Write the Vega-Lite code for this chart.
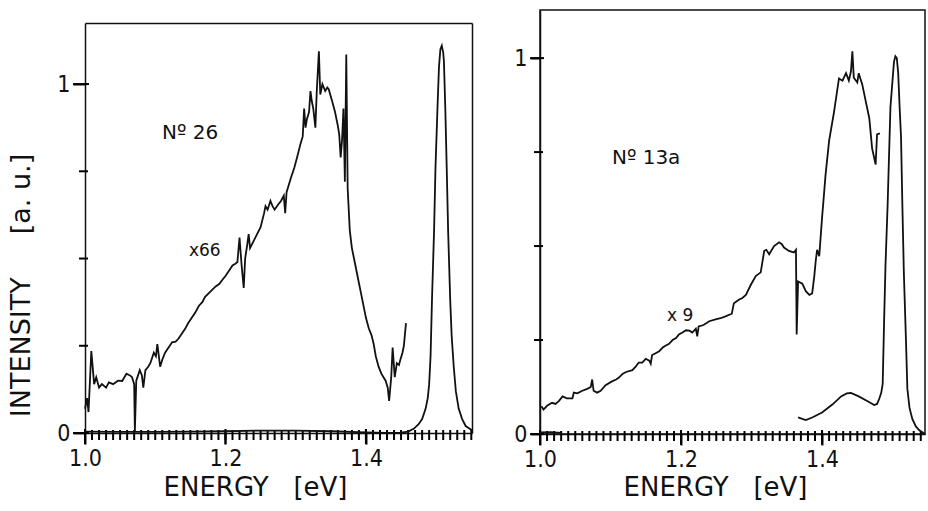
{
  "$schema": "https://vega.github.io/schema/vega-lite/v6.json",
  "background": "white",
  "padding": {"left": 7, "top": 9, "right": 2, "bottom": 5},
  "spacing": 37,
  "config": {
    "view": {"stroke": "#111", "strokeWidth": 1.5},
    "axis": {
      "grid": false, "domainColor": "#111", "domainWidth": 1.5, "tickColor": "#111", "tickWidth": 2,
      "labelColor": "#111", "titleColor": "#111",
      "labelFont": "Liberation Sans Narrow, DejaVu Sans Condensed, Liberation Sans", "labelFontSize": 23,
      "titleFont": "DejaVu Sans", "titleFontSize": 26, "titleFontWeight": "normal",
      "labelOverlap": false, "labelFlush": false, "labelBound": false
    },
    "text": {"font": "DejaVu Sans", "color": "#111"}
  },
  "datasets": {
    "axisticks": [
      {"axis": "x", "v": 1.00, "major": true}, {"axis": "x", "v": 1.01, "major": false}, {"axis": "x", "v": 1.02, "major": false}, {"axis": "x", "v": 1.03, "major": false}, {"axis": "x", "v": 1.04, "major": false},
      {"axis": "x", "v": 1.05, "major": false}, {"axis": "x", "v": 1.06, "major": false}, {"axis": "x", "v": 1.07, "major": false}, {"axis": "x", "v": 1.08, "major": false}, {"axis": "x", "v": 1.09, "major": false},
      {"axis": "x", "v": 1.10, "major": false}, {"axis": "x", "v": 1.11, "major": false}, {"axis": "x", "v": 1.12, "major": false}, {"axis": "x", "v": 1.13, "major": false}, {"axis": "x", "v": 1.14, "major": false},
      {"axis": "x", "v": 1.15, "major": false}, {"axis": "x", "v": 1.16, "major": false}, {"axis": "x", "v": 1.17, "major": false}, {"axis": "x", "v": 1.18, "major": false}, {"axis": "x", "v": 1.19, "major": false},
      {"axis": "x", "v": 1.20, "major": true}, {"axis": "x", "v": 1.21, "major": false}, {"axis": "x", "v": 1.22, "major": false}, {"axis": "x", "v": 1.23, "major": false}, {"axis": "x", "v": 1.24, "major": false},
      {"axis": "x", "v": 1.25, "major": false}, {"axis": "x", "v": 1.26, "major": false}, {"axis": "x", "v": 1.27, "major": false}, {"axis": "x", "v": 1.28, "major": false}, {"axis": "x", "v": 1.29, "major": false},
      {"axis": "x", "v": 1.30, "major": false}, {"axis": "x", "v": 1.31, "major": false}, {"axis": "x", "v": 1.32, "major": false}, {"axis": "x", "v": 1.33, "major": false}, {"axis": "x", "v": 1.34, "major": false},
      {"axis": "x", "v": 1.35, "major": false}, {"axis": "x", "v": 1.36, "major": false}, {"axis": "x", "v": 1.37, "major": false}, {"axis": "x", "v": 1.38, "major": false}, {"axis": "x", "v": 1.39, "major": false},
      {"axis": "x", "v": 1.40, "major": true}, {"axis": "x", "v": 1.41, "major": false}, {"axis": "x", "v": 1.42, "major": false}, {"axis": "x", "v": 1.43, "major": false}, {"axis": "x", "v": 1.44, "major": false},
      {"axis": "x", "v": 1.45, "major": false}, {"axis": "x", "v": 1.46, "major": false}, {"axis": "x", "v": 1.47, "major": false}, {"axis": "x", "v": 1.48, "major": false}, {"axis": "x", "v": 1.49, "major": false},
      {"axis": "x", "v": 1.50, "major": false}, {"axis": "x", "v": 1.51, "major": false}, {"axis": "x", "v": 1.52, "major": false}, {"axis": "x", "v": 1.53, "major": false}, {"axis": "x", "v": 1.54, "major": false},
      {"axis": "x", "v": 1.55, "major": false},
      {"axis": "y", "v": 0, "major": true}, {"axis": "y", "v": 0.25, "major": false}, {"axis": "y", "v": 0.5, "major": false}, {"axis": "y", "v": 0.75, "major": false}, {"axis": "y", "v": 1, "major": true}
    ],
    "spectra": [
      {"panel": "26", "series": "x66", "x": 1.000, "y": 0.07},
      {"panel": "26", "series": "x66", "x": 1.003, "y": 0.10},
      {"panel": "26", "series": "x66", "x": 1.005, "y": 0.06},
      {"panel": "26", "series": "x66", "x": 1.009, "y": 0.235},
      {"panel": "26", "series": "x66", "x": 1.013, "y": 0.14},
      {"panel": "26", "series": "x66", "x": 1.016, "y": 0.16},
      {"panel": "26", "series": "x66", "x": 1.020, "y": 0.13},
      {"panel": "26", "series": "x66", "x": 1.024, "y": 0.14},
      {"panel": "26", "series": "x66", "x": 1.030, "y": 0.13},
      {"panel": "26", "series": "x66", "x": 1.034, "y": 0.145},
      {"panel": "26", "series": "x66", "x": 1.040, "y": 0.14},
      {"panel": "26", "series": "x66", "x": 1.047, "y": 0.15},
      {"panel": "26", "series": "x66", "x": 1.053, "y": 0.149},
      {"panel": "26", "series": "x66", "x": 1.059, "y": 0.17},
      {"panel": "26", "series": "x66", "x": 1.064, "y": 0.165},
      {"panel": "26", "series": "x66", "x": 1.067, "y": 0.16},
      {"panel": "26", "series": "x66", "x": 1.070, "y": 0.14},
      {"panel": "26", "series": "x66", "x": 1.071, "y": 0.005},
      {"panel": "26", "series": "x66", "x": 1.073, "y": 0.15},
      {"panel": "26", "series": "x66", "x": 1.078, "y": 0.18},
      {"panel": "26", "series": "x66", "x": 1.081, "y": 0.165},
      {"panel": "26", "series": "x66", "x": 1.083, "y": 0.13},
      {"panel": "26", "series": "x66", "x": 1.086, "y": 0.18},
      {"panel": "26", "series": "x66", "x": 1.090, "y": 0.19},
      {"panel": "26", "series": "x66", "x": 1.093, "y": 0.20},
      {"panel": "26", "series": "x66", "x": 1.098, "y": 0.23},
      {"panel": "26", "series": "x66", "x": 1.101, "y": 0.22},
      {"panel": "26", "series": "x66", "x": 1.103, "y": 0.255},
      {"panel": "26", "series": "x66", "x": 1.107, "y": 0.19},
      {"panel": "26", "series": "x66", "x": 1.110, "y": 0.21},
      {"panel": "26", "series": "x66", "x": 1.114, "y": 0.23},
      {"panel": "26", "series": "x66", "x": 1.119, "y": 0.245},
      {"panel": "26", "series": "x66", "x": 1.124, "y": 0.26},
      {"panel": "26", "series": "x66", "x": 1.129, "y": 0.262},
      {"panel": "26", "series": "x66", "x": 1.133, "y": 0.27},
      {"panel": "26", "series": "x66", "x": 1.138, "y": 0.285},
      {"panel": "26", "series": "x66", "x": 1.143, "y": 0.30},
      {"panel": "26", "series": "x66", "x": 1.147, "y": 0.315},
      {"panel": "26", "series": "x66", "x": 1.152, "y": 0.33},
      {"panel": "26", "series": "x66", "x": 1.157, "y": 0.345},
      {"panel": "26", "series": "x66", "x": 1.162, "y": 0.364},
      {"panel": "26", "series": "x66", "x": 1.167, "y": 0.375},
      {"panel": "26", "series": "x66", "x": 1.171, "y": 0.39},
      {"panel": "26", "series": "x66", "x": 1.176, "y": 0.40},
      {"panel": "26", "series": "x66", "x": 1.181, "y": 0.41},
      {"panel": "26", "series": "x66", "x": 1.186, "y": 0.42},
      {"panel": "26", "series": "x66", "x": 1.191, "y": 0.427},
      {"panel": "26", "series": "x66", "x": 1.196, "y": 0.44},
      {"panel": "26", "series": "x66", "x": 1.200, "y": 0.45},
      {"panel": "26", "series": "x66", "x": 1.205, "y": 0.465},
      {"panel": "26", "series": "x66", "x": 1.210, "y": 0.48},
      {"panel": "26", "series": "x66", "x": 1.214, "y": 0.485},
      {"panel": "26", "series": "x66", "x": 1.217, "y": 0.49},
      {"panel": "26", "series": "x66", "x": 1.220, "y": 0.56},
      {"panel": "26", "series": "x66", "x": 1.223, "y": 0.48},
      {"panel": "26", "series": "x66", "x": 1.226, "y": 0.416},
      {"panel": "26", "series": "x66", "x": 1.228, "y": 0.50},
      {"panel": "26", "series": "x66", "x": 1.231, "y": 0.54},
      {"panel": "26", "series": "x66", "x": 1.233, "y": 0.57},
      {"panel": "26", "series": "x66", "x": 1.235, "y": 0.53},
      {"panel": "26", "series": "x66", "x": 1.240, "y": 0.55},
      {"panel": "26", "series": "x66", "x": 1.245, "y": 0.57},
      {"panel": "26", "series": "x66", "x": 1.250, "y": 0.59},
      {"panel": "26", "series": "x66", "x": 1.255, "y": 0.63},
      {"panel": "26", "series": "x66", "x": 1.257, "y": 0.65},
      {"panel": "26", "series": "x66", "x": 1.260, "y": 0.64},
      {"panel": "26", "series": "x66", "x": 1.264, "y": 0.665},
      {"panel": "26", "series": "x66", "x": 1.267, "y": 0.65},
      {"panel": "26", "series": "x66", "x": 1.270, "y": 0.64},
      {"panel": "26", "series": "x66", "x": 1.275, "y": 0.655},
      {"panel": "26", "series": "x66", "x": 1.279, "y": 0.665},
      {"panel": "26", "series": "x66", "x": 1.283, "y": 0.68},
      {"panel": "26", "series": "x66", "x": 1.285, "y": 0.63},
      {"panel": "26", "series": "x66", "x": 1.287, "y": 0.69},
      {"panel": "26", "series": "x66", "x": 1.290, "y": 0.71},
      {"panel": "26", "series": "x66", "x": 1.293, "y": 0.73},
      {"panel": "26", "series": "x66", "x": 1.298, "y": 0.76},
      {"panel": "26", "series": "x66", "x": 1.302, "y": 0.79},
      {"panel": "26", "series": "x66", "x": 1.307, "y": 0.83},
      {"panel": "26", "series": "x66", "x": 1.310, "y": 0.85},
      {"panel": "26", "series": "x66", "x": 1.312, "y": 0.93},
      {"panel": "26", "series": "x66", "x": 1.314, "y": 0.875},
      {"panel": "26", "series": "x66", "x": 1.316, "y": 0.90},
      {"panel": "26", "series": "x66", "x": 1.319, "y": 0.92},
      {"panel": "26", "series": "x66", "x": 1.321, "y": 0.98},
      {"panel": "26", "series": "x66", "x": 1.323, "y": 0.95},
      {"panel": "26", "series": "x66", "x": 1.325, "y": 0.93},
      {"panel": "26", "series": "x66", "x": 1.328, "y": 0.875},
      {"panel": "26", "series": "x66", "x": 1.330, "y": 0.98},
      {"panel": "26", "series": "x66", "x": 1.333, "y": 1.094},
      {"panel": "26", "series": "x66", "x": 1.335, "y": 0.97},
      {"panel": "26", "series": "x66", "x": 1.338, "y": 1.0},
      {"panel": "26", "series": "x66", "x": 1.342, "y": 0.98},
      {"panel": "26", "series": "x66", "x": 1.345, "y": 0.99},
      {"panel": "26", "series": "x66", "x": 1.347, "y": 0.985},
      {"panel": "26", "series": "x66", "x": 1.352, "y": 0.95},
      {"panel": "26", "series": "x66", "x": 1.356, "y": 0.92},
      {"panel": "26", "series": "x66", "x": 1.360, "y": 0.88},
      {"panel": "26", "series": "x66", "x": 1.362, "y": 0.855},
      {"panel": "26", "series": "x66", "x": 1.364, "y": 0.79},
      {"panel": "26", "series": "x66", "x": 1.366, "y": 0.84},
      {"panel": "26", "series": "x66", "x": 1.368, "y": 0.93},
      {"panel": "26", "series": "x66", "x": 1.370, "y": 0.72},
      {"panel": "26", "series": "x66", "x": 1.372, "y": 1.085},
      {"panel": "26", "series": "x66", "x": 1.374, "y": 0.70},
      {"panel": "26", "series": "x66", "x": 1.377, "y": 0.58},
      {"panel": "26", "series": "x66", "x": 1.380, "y": 0.53},
      {"panel": "26", "series": "x66", "x": 1.383, "y": 0.50},
      {"panel": "26", "series": "x66", "x": 1.386, "y": 0.47},
      {"panel": "26", "series": "x66", "x": 1.390, "y": 0.43},
      {"panel": "26", "series": "x66", "x": 1.393, "y": 0.40},
      {"panel": "26", "series": "x66", "x": 1.397, "y": 0.36},
      {"panel": "26", "series": "x66", "x": 1.400, "y": 0.33},
      {"panel": "26", "series": "x66", "x": 1.404, "y": 0.30},
      {"panel": "26", "series": "x66", "x": 1.408, "y": 0.28},
      {"panel": "26", "series": "x66", "x": 1.411, "y": 0.255},
      {"panel": "26", "series": "x66", "x": 1.414, "y": 0.22},
      {"panel": "26", "series": "x66", "x": 1.418, "y": 0.19},
      {"panel": "26", "series": "x66", "x": 1.422, "y": 0.17},
      {"panel": "26", "series": "x66", "x": 1.425, "y": 0.16},
      {"panel": "26", "series": "x66", "x": 1.428, "y": 0.15},
      {"panel": "26", "series": "x66", "x": 1.431, "y": 0.13},
      {"panel": "26", "series": "x66", "x": 1.433, "y": 0.092},
      {"panel": "26", "series": "x66", "x": 1.436, "y": 0.16},
      {"panel": "26", "series": "x66", "x": 1.438, "y": 0.245},
      {"panel": "26", "series": "x66", "x": 1.441, "y": 0.16},
      {"panel": "26", "series": "x66", "x": 1.444, "y": 0.20},
      {"panel": "26", "series": "x66", "x": 1.447, "y": 0.195},
      {"panel": "26", "series": "x66", "x": 1.449, "y": 0.21},
      {"panel": "26", "series": "x66", "x": 1.452, "y": 0.23},
      {"panel": "26", "series": "x66", "x": 1.454, "y": 0.25},
      {"panel": "26", "series": "x66", "x": 1.457, "y": 0.315},

      {"panel": "26", "series": "x1", "x": 1.000, "y": 0.004},
      {"panel": "26", "series": "x1", "x": 1.050, "y": 0.003},
      {"panel": "26", "series": "x1", "x": 1.100, "y": 0.003},
      {"panel": "26", "series": "x1", "x": 1.150, "y": 0.004},
      {"panel": "26", "series": "x1", "x": 1.200, "y": 0.005},
      {"panel": "26", "series": "x1", "x": 1.250, "y": 0.007},
      {"panel": "26", "series": "x1", "x": 1.300, "y": 0.007},
      {"panel": "26", "series": "x1", "x": 1.350, "y": 0.005},
      {"panel": "26", "series": "x1", "x": 1.400, "y": 0.002},
      {"panel": "26", "series": "x1", "x": 1.430, "y": 0.0},
      {"panel": "26", "series": "x1", "x": 1.450, "y": 0.001},
      {"panel": "26", "series": "x1", "x": 1.460, "y": 0.004},
      {"panel": "26", "series": "x1", "x": 1.468, "y": 0.012},
      {"panel": "26", "series": "x1", "x": 1.475, "y": 0.025},
      {"panel": "26", "series": "x1", "x": 1.480, "y": 0.04},
      {"panel": "26", "series": "x1", "x": 1.485, "y": 0.07},
      {"panel": "26", "series": "x1", "x": 1.488, "y": 0.10},
      {"panel": "26", "series": "x1", "x": 1.490, "y": 0.14},
      {"panel": "26", "series": "x1", "x": 1.492, "y": 0.22},
      {"panel": "26", "series": "x1", "x": 1.494, "y": 0.38},
      {"panel": "26", "series": "x1", "x": 1.497, "y": 0.58},
      {"panel": "26", "series": "x1", "x": 1.499, "y": 0.76},
      {"panel": "26", "series": "x1", "x": 1.502, "y": 0.94},
      {"panel": "26", "series": "x1", "x": 1.504, "y": 1.05},
      {"panel": "26", "series": "x1", "x": 1.506, "y": 1.10},
      {"panel": "26", "series": "x1", "x": 1.508, "y": 1.11},
      {"panel": "26", "series": "x1", "x": 1.510, "y": 1.09},
      {"panel": "26", "series": "x1", "x": 1.511, "y": 1.066},
      {"panel": "26", "series": "x1", "x": 1.513, "y": 0.93},
      {"panel": "26", "series": "x1", "x": 1.515, "y": 0.76},
      {"panel": "26", "series": "x1", "x": 1.517, "y": 0.58},
      {"panel": "26", "series": "x1", "x": 1.520, "y": 0.38},
      {"panel": "26", "series": "x1", "x": 1.522, "y": 0.28},
      {"panel": "26", "series": "x1", "x": 1.525, "y": 0.19},
      {"panel": "26", "series": "x1", "x": 1.528, "y": 0.12},
      {"panel": "26", "series": "x1", "x": 1.532, "y": 0.07},
      {"panel": "26", "series": "x1", "x": 1.537, "y": 0.04},
      {"panel": "26", "series": "x1", "x": 1.542, "y": 0.02},
      {"panel": "26", "series": "x1", "x": 1.551, "y": 0.008},

      {"panel": "13a", "series": "x9", "x": 1.002, "y": 0.074},
      {"panel": "13a", "series": "x9", "x": 1.005, "y": 0.065},
      {"panel": "13a", "series": "x9", "x": 1.010, "y": 0.075},
      {"panel": "13a", "series": "x9", "x": 1.017, "y": 0.083},
      {"panel": "13a", "series": "x9", "x": 1.022, "y": 0.08},
      {"panel": "13a", "series": "x9", "x": 1.027, "y": 0.088},
      {"panel": "13a", "series": "x9", "x": 1.032, "y": 0.10},
      {"panel": "13a", "series": "x9", "x": 1.038, "y": 0.095},
      {"panel": "13a", "series": "x9", "x": 1.046, "y": 0.095},
      {"panel": "13a", "series": "x9", "x": 1.048, "y": 0.11},
      {"panel": "13a", "series": "x9", "x": 1.053, "y": 0.108},
      {"panel": "13a", "series": "x9", "x": 1.060, "y": 0.115},
      {"panel": "13a", "series": "x9", "x": 1.067, "y": 0.12},
      {"panel": "13a", "series": "x9", "x": 1.072, "y": 0.125},
      {"panel": "13a", "series": "x9", "x": 1.074, "y": 0.145},
      {"panel": "13a", "series": "x9", "x": 1.076, "y": 0.115},
      {"panel": "13a", "series": "x9", "x": 1.081, "y": 0.11},
      {"panel": "13a", "series": "x9", "x": 1.086, "y": 0.115},
      {"panel": "13a", "series": "x9", "x": 1.093, "y": 0.13},
      {"panel": "13a", "series": "x9", "x": 1.102, "y": 0.14},
      {"panel": "13a", "series": "x9", "x": 1.108, "y": 0.145},
      {"panel": "13a", "series": "x9", "x": 1.112, "y": 0.15},
      {"panel": "13a", "series": "x9", "x": 1.117, "y": 0.16},
      {"panel": "13a", "series": "x9", "x": 1.122, "y": 0.165},
      {"panel": "13a", "series": "x9", "x": 1.131, "y": 0.17},
      {"panel": "13a", "series": "x9", "x": 1.136, "y": 0.18},
      {"panel": "13a", "series": "x9", "x": 1.140, "y": 0.19},
      {"panel": "13a", "series": "x9", "x": 1.145, "y": 0.19},
      {"panel": "13a", "series": "x9", "x": 1.150, "y": 0.20},
      {"panel": "13a", "series": "x9", "x": 1.155, "y": 0.195},
      {"panel": "13a", "series": "x9", "x": 1.157, "y": 0.187},
      {"panel": "13a", "series": "x9", "x": 1.159, "y": 0.21},
      {"panel": "13a", "series": "x9", "x": 1.164, "y": 0.215},
      {"panel": "13a", "series": "x9", "x": 1.169, "y": 0.22},
      {"panel": "13a", "series": "x9", "x": 1.174, "y": 0.23},
      {"panel": "13a", "series": "x9", "x": 1.178, "y": 0.235},
      {"panel": "13a", "series": "x9", "x": 1.183, "y": 0.24},
      {"panel": "13a", "series": "x9", "x": 1.188, "y": 0.25},
      {"panel": "13a", "series": "x9", "x": 1.193, "y": 0.255},
      {"panel": "13a", "series": "x9", "x": 1.197, "y": 0.265},
      {"panel": "13a", "series": "x9", "x": 1.202, "y": 0.27},
      {"panel": "13a", "series": "x9", "x": 1.207, "y": 0.276},
      {"panel": "13a", "series": "x9", "x": 1.212, "y": 0.275},
      {"panel": "13a", "series": "x9", "x": 1.216, "y": 0.27},
      {"panel": "13a", "series": "x9", "x": 1.221, "y": 0.28},
      {"panel": "13a", "series": "x9", "x": 1.223, "y": 0.26},
      {"panel": "13a", "series": "x9", "x": 1.225, "y": 0.286},
      {"panel": "13a", "series": "x9", "x": 1.232, "y": 0.29},
      {"panel": "13a", "series": "x9", "x": 1.240, "y": 0.30},
      {"panel": "13a", "series": "x9", "x": 1.249, "y": 0.305},
      {"panel": "13a", "series": "x9", "x": 1.256, "y": 0.308},
      {"panel": "13a", "series": "x9", "x": 1.263, "y": 0.313},
      {"panel": "13a", "series": "x9", "x": 1.272, "y": 0.32},
      {"panel": "13a", "series": "x9", "x": 1.275, "y": 0.348},
      {"panel": "13a", "series": "x9", "x": 1.282, "y": 0.357},
      {"panel": "13a", "series": "x9", "x": 1.287, "y": 0.362},
      {"panel": "13a", "series": "x9", "x": 1.292, "y": 0.37},
      {"panel": "13a", "series": "x9", "x": 1.299, "y": 0.397},
      {"panel": "13a", "series": "x9", "x": 1.306, "y": 0.42},
      {"panel": "13a", "series": "x9", "x": 1.313, "y": 0.43},
      {"panel": "13a", "series": "x9", "x": 1.318, "y": 0.487},
      {"panel": "13a", "series": "x9", "x": 1.321, "y": 0.49},
      {"panel": "13a", "series": "x9", "x": 1.325, "y": 0.478},
      {"panel": "13a", "series": "x9", "x": 1.332, "y": 0.50},
      {"panel": "13a", "series": "x9", "x": 1.339, "y": 0.51},
      {"panel": "13a", "series": "x9", "x": 1.343, "y": 0.505},
      {"panel": "13a", "series": "x9", "x": 1.346, "y": 0.496},
      {"panel": "13a", "series": "x9", "x": 1.353, "y": 0.487},
      {"panel": "13a", "series": "x9", "x": 1.360, "y": 0.483},
      {"panel": "13a", "series": "x9", "x": 1.363, "y": 0.49},
      {"panel": "13a", "series": "x9", "x": 1.364, "y": 0.265},
      {"panel": "13a", "series": "x9", "x": 1.366, "y": 0.406},
      {"panel": "13a", "series": "x9", "x": 1.372, "y": 0.40},
      {"panel": "13a", "series": "x9", "x": 1.377, "y": 0.38},
      {"panel": "13a", "series": "x9", "x": 1.382, "y": 0.37},
      {"panel": "13a", "series": "x9", "x": 1.386, "y": 0.374},
      {"panel": "13a", "series": "x9", "x": 1.389, "y": 0.42},
      {"panel": "13a", "series": "x9", "x": 1.391, "y": 0.46},
      {"panel": "13a", "series": "x9", "x": 1.393, "y": 0.49},
      {"panel": "13a", "series": "x9", "x": 1.396, "y": 0.473},
      {"panel": "13a", "series": "x9", "x": 1.400, "y": 0.575},
      {"panel": "13a", "series": "x9", "x": 1.405, "y": 0.69},
      {"panel": "13a", "series": "x9", "x": 1.410, "y": 0.78},
      {"panel": "13a", "series": "x9", "x": 1.417, "y": 0.857},
      {"panel": "13a", "series": "x9", "x": 1.424, "y": 0.946},
      {"panel": "13a", "series": "x9", "x": 1.429, "y": 0.94},
      {"panel": "13a", "series": "x9", "x": 1.434, "y": 0.96},
      {"panel": "13a", "series": "x9", "x": 1.438, "y": 0.94},
      {"panel": "13a", "series": "x9", "x": 1.441, "y": 0.965},
      {"panel": "13a", "series": "x9", "x": 1.443, "y": 1.018},
      {"panel": "13a", "series": "x9", "x": 1.445, "y": 0.948},
      {"panel": "13a", "series": "x9", "x": 1.450, "y": 0.935},
      {"panel": "13a", "series": "x9", "x": 1.452, "y": 0.96},
      {"panel": "13a", "series": "x9", "x": 1.457, "y": 0.93},
      {"panel": "13a", "series": "x9", "x": 1.462, "y": 0.885},
      {"panel": "13a", "series": "x9", "x": 1.467, "y": 0.84},
      {"panel": "13a", "series": "x9", "x": 1.471, "y": 0.76},
      {"panel": "13a", "series": "x9", "x": 1.476, "y": 0.717},
      {"panel": "13a", "series": "x9", "x": 1.478, "y": 0.797},
      {"panel": "13a", "series": "x9", "x": 1.482, "y": 0.80},

      {"panel": "13a", "series": "x1low", "x": 1.000, "y": 0.004},
      {"panel": "13a", "series": "x1low", "x": 1.015, "y": 0.005},
      {"panel": "13a", "series": "x1low", "x": 1.030, "y": 0.003},

      {"panel": "13a", "series": "x1", "x": 1.366, "y": 0.044},
      {"panel": "13a", "series": "x1", "x": 1.372, "y": 0.040},
      {"panel": "13a", "series": "x1", "x": 1.377, "y": 0.037},
      {"panel": "13a", "series": "x1", "x": 1.386, "y": 0.044},
      {"panel": "13a", "series": "x1", "x": 1.400, "y": 0.057},
      {"panel": "13a", "series": "x1", "x": 1.415, "y": 0.079},
      {"panel": "13a", "series": "x1", "x": 1.427, "y": 0.10},
      {"panel": "13a", "series": "x1", "x": 1.435, "y": 0.108},
      {"panel": "13a", "series": "x1", "x": 1.441, "y": 0.109},
      {"panel": "13a", "series": "x1", "x": 1.452, "y": 0.10},
      {"panel": "13a", "series": "x1", "x": 1.464, "y": 0.088},
      {"panel": "13a", "series": "x1", "x": 1.474, "y": 0.077},
      {"panel": "13a", "series": "x1", "x": 1.478, "y": 0.080},
      {"panel": "13a", "series": "x1", "x": 1.481, "y": 0.093},
      {"panel": "13a", "series": "x1", "x": 1.484, "y": 0.11},
      {"panel": "13a", "series": "x1", "x": 1.486, "y": 0.133},
      {"panel": "13a", "series": "x1", "x": 1.488, "y": 0.30},
      {"panel": "13a", "series": "x1", "x": 1.490, "y": 0.45},
      {"panel": "13a", "series": "x1", "x": 1.493, "y": 0.61},
      {"panel": "13a", "series": "x1", "x": 1.497, "y": 0.87},
      {"panel": "13a", "series": "x1", "x": 1.502, "y": 0.99},
      {"panel": "13a", "series": "x1", "x": 1.504, "y": 1.005},
      {"panel": "13a", "series": "x1", "x": 1.506, "y": 1.0},
      {"panel": "13a", "series": "x1", "x": 1.508, "y": 0.96},
      {"panel": "13a", "series": "x1", "x": 1.510, "y": 0.87},
      {"panel": "13a", "series": "x1", "x": 1.512, "y": 0.79},
      {"panel": "13a", "series": "x1", "x": 1.514, "y": 0.60},
      {"panel": "13a", "series": "x1", "x": 1.516, "y": 0.43},
      {"panel": "13a", "series": "x1", "x": 1.519, "y": 0.25},
      {"panel": "13a", "series": "x1", "x": 1.521, "y": 0.12},
      {"panel": "13a", "series": "x1", "x": 1.524, "y": 0.07},
      {"panel": "13a", "series": "x1", "x": 1.528, "y": 0.04},
      {"panel": "13a", "series": "x1", "x": 1.533, "y": 0.02},
      {"panel": "13a", "series": "x1", "x": 1.538, "y": 0.01},
      {"panel": "13a", "series": "x1", "x": 1.546, "y": 0.0}
    ],
    "notes": [
      {"panel": "26", "kind": "sample", "label": "Nº 26", "x": 1.1096, "y": 0.842},
      {"panel": "26", "kind": "factor", "label": "x66", "x": 1.148, "y": 0.507},
      {"panel": "13a", "kind": "sample", "label": "Nº 13a", "x": 1.102, "y": 0.718},
      {"panel": "13a", "kind": "factor", "label": "x 9", "x": 1.18, "y": 0.30}
    ]
  },
  "hconcat": [
    {
      "width": 387,
      "height": 423,
      "view": {"stroke": null},
      "resolve": {"axis": {"x": "independent", "y": "independent"}},
      "layer": [
        {
          "data": {"name": "axisticks"},
          "transform": [{"filter": "datum.axis == 'x' && datum.v <= 1.551"}],
          "mark": {"type": "rule", "color": "black", "strokeWidth": 2},
          "encoding": {
            "x": {"field": "v", "type": "quantitative", "axis": null},
            "y": {"datum": 0.0086, "type": "quantitative", "axis": null},
            "y2": {"datum": -0.02}
          }
        },
        {
          "data": {"name": "axisticks"},
          "transform": [{"filter": "datum.axis == 'x' && datum.major"}],
          "mark": {"type": "rule", "color": "black", "strokeWidth": 2},
          "encoding": {
            "x": {"field": "v", "type": "quantitative", "axis": null},
            "y": {"datum": 0.0115, "type": "quantitative", "axis": null},
            "y2": {"datum": -0.032}
          }
        },
        {
          "data": {"name": "axisticks"},
          "transform": [{"filter": "datum.axis == 'y' && !datum.major"}],
          "mark": {"type": "rule", "color": "black", "strokeWidth": 2},
          "encoding": {
            "x": {"datum": 1.0043, "type": "quantitative", "axis": null},
            "x2": {"datum": 0.9915},
            "y": {"field": "v", "type": "quantitative", "axis": null}
          }
        },
        {
          "data": {"name": "axisticks"},
          "transform": [{"filter": "datum.axis == 'y' && datum.major"}],
          "mark": {"type": "rule", "color": "black", "strokeWidth": 2},
          "encoding": {
            "x": {"datum": 1.0057, "type": "quantitative", "axis": null},
            "x2": {"datum": 0.983},
            "y": {"field": "v", "type": "quantitative", "axis": null}
          }
        },
        {
          "data": {"name": "spectra"},
          "transform": [{"filter": "datum.panel == '26'"}],
          "mark": {"type": "line", "color": "#111", "strokeWidth": 1.8},
          "encoding": {
            "x": {
              "field": "x", "type": "quantitative",
              "scale": {"domain": [1.0, 1.551], "nice": false, "zero": false},
              "axis": {
                "orient": "bottom",
                "title": "ENERGY\u00a0\u00a0\u00a0[eV]",
                "values": [1.0, 1.2, 1.4],
                "format": ".1f",
                "tickSize": 11,
                "labelPadding": 3,
                "titleX": 170, "titleY": 54, "titleAlign": "center", "titleBaseline": "middle"
              }
            },
            "y": {
              "field": "y", "type": "quantitative",
              "scale": {"domain": [0, 1.175], "range": [423, 13], "nice": false},
              "axis": {
                "orient": "left",
                "title": "INTENSITY\u00a0\u00a0\u00a0\u00a0\u00a0[a. u.]",
                "titleFontSize": 27,
                "values": [0, 1],
                "format": "d",
                "tickSize": 12,
                "labelPadding": 3,
                "titleX": -64, "titleY": 275, "titleAngle": 270, "titleAlign": "center", "titleBaseline": "middle"
              }
            },
            "detail": {"field": "series"}
          }
        },
        {
          "data": {"name": "notes"},
          "transform": [{"filter": "datum.panel == '26' && datum.kind == 'sample'"}],
          "mark": {"type": "text", "align": "left", "baseline": "alphabetic", "fontSize": 20},
          "encoding": {
            "x": {"field": "x", "type": "quantitative", "axis": null},
            "y": {"field": "y", "type": "quantitative", "axis": null},
            "text": {"field": "label"}
          }
        },
        {
          "data": {"name": "notes"},
          "transform": [{"filter": "datum.panel == '26' && datum.kind == 'factor'"}],
          "mark": {"type": "text", "align": "left", "baseline": "alphabetic", "fontSize": 17},
          "encoding": {
            "x": {
              "field": "x", "type": "quantitative",
              "axis": {"orient": "top", "title": null, "labels": false, "ticks": false, "domain": true, "offset": -13, "values": [1.0]}
            },
            "y": {
              "field": "y", "type": "quantitative",
              "axis": {"orient": "right", "title": null, "labels": false, "ticks": false, "domain": true, "values": [0]}
            },
            "text": {"field": "label"}
          }
        }
      ]
    },
    {
      "width": 385,
      "height": 424,
      "resolve": {"axis": {"x": "independent", "y": "independent"}},
      "layer": [
        {
          "data": {"name": "axisticks"},
          "transform": [{"filter": "datum.axis == 'x' && datum.v <= 1.546"}],
          "mark": {"type": "rule", "color": "black", "strokeWidth": 2},
          "encoding": {
            "x": {"field": "v", "type": "quantitative", "axis": null},
            "y": {"datum": 0.008, "type": "quantitative", "axis": null},
            "y2": {"datum": -0.0186}
          }
        },
        {
          "data": {"name": "axisticks"},
          "transform": [{"filter": "datum.axis == 'x' && datum.major"}],
          "mark": {"type": "rule", "color": "black", "strokeWidth": 2},
          "encoding": {
            "x": {"field": "v", "type": "quantitative", "axis": null},
            "y": {"datum": 0.0106, "type": "quantitative", "axis": null},
            "y2": {"datum": -0.029}
          }
        },
        {
          "data": {"name": "axisticks"},
          "transform": [{"filter": "datum.axis == 'y' && !datum.major"}],
          "mark": {"type": "rule", "color": "black", "strokeWidth": 2},
          "encoding": {
            "x": {"datum": 1.0043, "type": "quantitative", "axis": null},
            "x2": {"datum": 0.9915},
            "y": {"field": "v", "type": "quantitative", "axis": null}
          }
        },
        {
          "data": {"name": "axisticks"},
          "transform": [{"filter": "datum.axis == 'y' && datum.major"}],
          "mark": {"type": "rule", "color": "black", "strokeWidth": 2},
          "encoding": {
            "x": {"datum": 1.0057, "type": "quantitative", "axis": null},
            "x2": {"datum": 0.986},
            "y": {"field": "v", "type": "quantitative", "axis": null}
          }
        },
        {
          "data": {"name": "spectra"},
          "transform": [{"filter": "datum.panel == '13a'"}],
          "mark": {"type": "line", "color": "#111", "strokeWidth": 1.8},
          "encoding": {
            "x": {
              "field": "x", "type": "quantitative",
              "scale": {"domain": [1.0, 1.546], "nice": false, "zero": false},
              "axis": {
                "orient": "bottom",
                "title": "ENERGY\u00a0\u00a0\u00a0[eV]",
                "values": [1.0, 1.2, 1.4],
                "format": ".1f",
                "tickSize": 11,
                "labelPadding": 3,
                "titleX": 175, "titleY": 53, "titleAlign": "center", "titleBaseline": "middle"
              }
            },
            "y": {
              "field": "y", "type": "quantitative",
              "scale": {"domain": [0, 1.128], "nice": false},
              "axis": {
                "orient": "left",
                "title": null,
                "values": [0, 1],
                "format": "d",
                "tickSize": 10,
                "labelPadding": 3
              }
            },
            "detail": {"field": "series"}
          }
        },
        {
          "data": {"name": "notes"},
          "transform": [{"filter": "datum.panel == '13a' && datum.kind == 'sample'"}],
          "mark": {"type": "text", "align": "left", "baseline": "alphabetic", "fontSize": 20},
          "encoding": {
            "x": {"field": "x", "type": "quantitative", "axis": null},
            "y": {"field": "y", "type": "quantitative", "axis": null},
            "text": {"field": "label"}
          }
        },
        {
          "data": {"name": "notes"},
          "transform": [{"filter": "datum.panel == '13a' && datum.kind == 'factor'"}],
          "mark": {"type": "text", "align": "left", "baseline": "alphabetic", "fontSize": 17},
          "encoding": {
            "x": {"field": "x", "type": "quantitative", "axis": null},
            "y": {"field": "y", "type": "quantitative", "axis": null},
            "text": {"field": "label"}
          }
        }
      ]
    }
  ]
}
